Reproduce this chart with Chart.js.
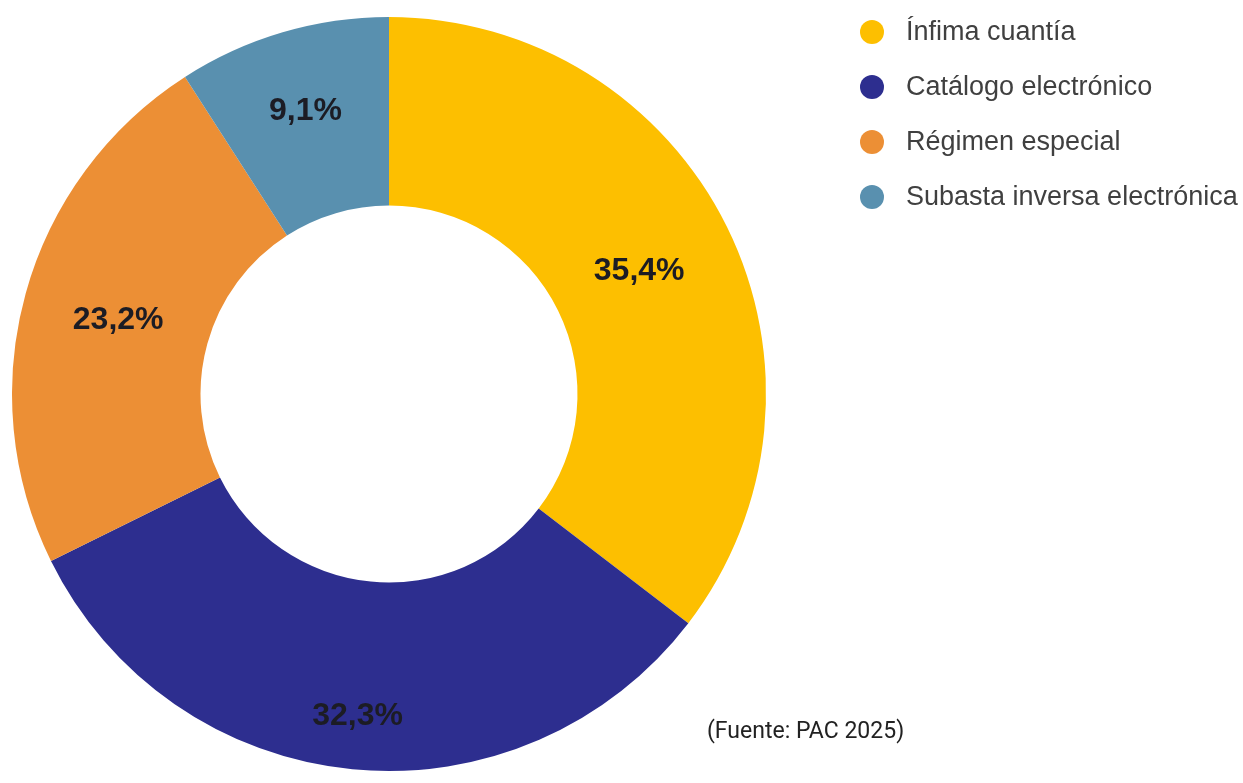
<!DOCTYPE html>
<html lang="es">
<head>
<meta charset="utf-8">
<title>Procedimientos PAC 2025</title>
<script src="https://cdn.jsdelivr.net/npm/chart.js@4.4.1/dist/chart.umd.min.js"></script>
<style>
  html, body { margin: 0; padding: 0; background: #fff; }
  #wrap { position: relative; width: 1243px; height: 783px; }
  #fuente {
    position: absolute; left: 707px; top: 717px;
    font-family: Roboto, "Noto Sans", sans-serif; font-size: 23px; color: #222;
  }
</style>
</head>
<body>
<div id="wrap">
  <canvas id="pieChart" width="1243" height="783"></canvas>
  <div id="fuente">(Fuente: PAC 2025)</div>
</div>
<script>
// Datos del gráfico (porcentajes por tipo de procedimiento)
const categorias = ['Ínfima cuantía', 'Catálogo electrónico', 'Régimen especial', 'Subasta inversa electrónica'];
const porcentajes = [35.4, 32.3, 23.2, 9.1];
const colores = ['#FDBF00', '#2D2E8F', '#EC8F35', '#5990AF'];

// Distancia al centro de cada etiqueta (las del original no están todas en el medio del anillo)
const radioEtiqueta = [279, 323, 281, 296];

// Etiquetas de porcentaje dentro de cada sector
const etiquetasPlugin = {
    id: 'etiquetas',
    afterDatasetsDraw(chart) {
        const ctx = chart.ctx;
        const meta = chart.getDatasetMeta(0);
        ctx.save();
        ctx.font = 'bold 32px Arial, "Liberation Sans", sans-serif';
        ctx.fillStyle = '#1c1c24';
        ctx.textAlign = 'center';
        ctx.textBaseline = 'middle';
        meta.data.forEach((arc, i) => {
            const p = arc.getProps(['x', 'y', 'startAngle', 'endAngle'], true);
            const medio = (p.startAngle + p.endAngle) / 2;
            const x = p.x + Math.cos(medio) * radioEtiqueta[i];
            const y = p.y + Math.sin(medio) * radioEtiqueta[i];
            const txt = porcentajes[i].toFixed(1).replace('.', ',') + '%';
            ctx.fillText(txt, x, y + 1);
        });
        ctx.restore();
    }
};

// Leyenda a la derecha
const leyendaPlugin = {
    id: 'leyenda',
    afterDraw(chart) {
        const ctx = chart.ctx;
        ctx.save();
        ctx.font = '27px Arial, "Liberation Sans", sans-serif';
        ctx.textBaseline = 'middle';
        categorias.forEach((nombre, i) => {
            const y = 32 + i * 55;
            ctx.beginPath();
            ctx.arc(872, y, 12, 0, Math.PI * 2);
            ctx.fillStyle = colores[i];
            ctx.fill();
            ctx.fillStyle = '#404040';
            ctx.fillText(nombre, 906, y + 1);
        });
        ctx.restore();
    }
};

const ctx = document.getElementById('pieChart').getContext('2d');
new Chart(ctx, {
    type: 'doughnut',
    data: {
        labels: categorias,
        datasets: [{
            data: porcentajes,
            backgroundColor: colores,
            borderWidth: 0
        }]
    },
    options: {
        responsive: false,
        animation: false,
        cutout: '50%',
        layout: {
            padding: { left: 12, right: 477, top: 17, bottom: 12 }
        },
        plugins: {
            legend: { display: false },
            tooltip: { enabled: false }
        }
    },
    plugins: [etiquetasPlugin, leyendaPlugin]
});
</script>
</body>
</html>
